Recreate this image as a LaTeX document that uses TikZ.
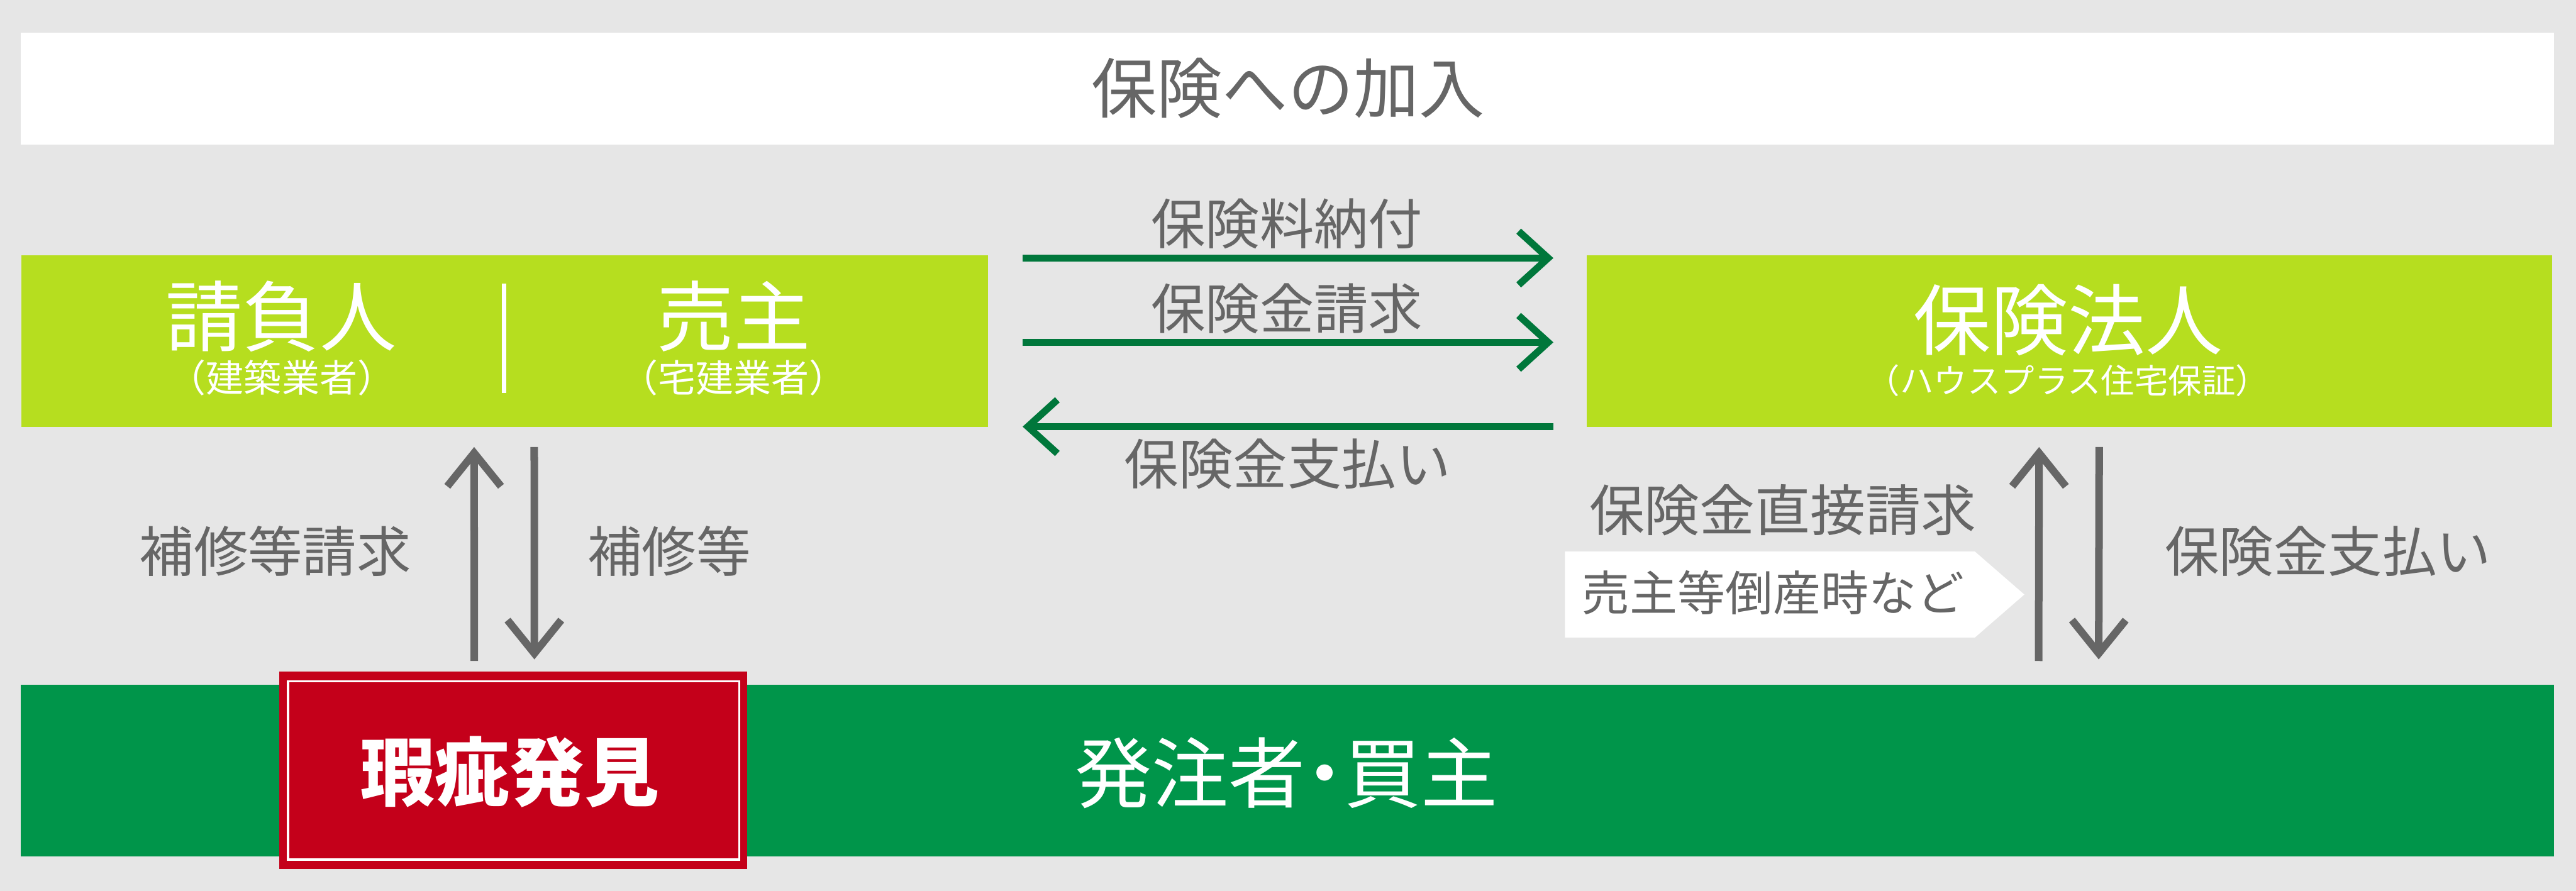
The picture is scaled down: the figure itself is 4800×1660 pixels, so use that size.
\documentclass[tikz,border=0pt]{standalone}
\usepackage{fontspec}
\setmainfont{Noto Sans CJK JP}
\usetikzlibrary{arrows.meta,calc}
\definecolor{bg}{HTML}{E6E6E6}
\definecolor{lime}{HTML}{B6DE1F}
\definecolor{dgreen}{HTML}{00773B}
\definecolor{bgreen}{HTML}{00954A}
\definecolor{kred}{HTML}{C4001A}
\definecolor{tgray}{HTML}{666666}
\begin{document}
\begin{tikzpicture}[x=0.01cm,y=-0.01cm,
  box/.style={rectangle, inner sep=0pt, outer sep=0pt, draw=none},
  fs/.style={font=\fontsize{#1}{#1}\selectfont},
  lbl/.style={inner sep=0pt, text=tgray},
  wlbl/.style={inner sep=0pt, text=white},
  garr/.style={draw=dgreen, line width=3.7pt, -{Straight Barb[length=0.55cm, width=1.0cm]}},
  gyarr/.style={draw=tgray, line width=4pt, -{Straight Barb[length=0.62cm, width=1.0cm]}}
]
\fill[bg] (0,0) rectangle (4800,1660);
\useasboundingbox (0,0) rectangle (4800,1660);

% top box
\node[box, fill=white, minimum width=47.17cm, minimum height=2.09cm] (top) at (2398.5,165.5) {};
\node[lbl, fs=34.7pt] (toptext) at (2400,164) {保険への加入};

% contractor / seller box
\node[box, fill=lime, minimum width=18cm, minimum height=3.2cm] (ukeoi) at (940,636) {};
\node[wlbl, fs=40.8pt] (ukeoiname) at (524,590) {請負人};
\node[wlbl, fs=20pt] (ukeoisub) at (525,704) {（建築業者）};
\node[wlbl, fs=40.8pt] (urinushi) at (1367,590) {売主};
\node[wlbl, fs=20pt] (urinushisub) at (1367,704) {（宅建業者）};
\draw[white, line width=0.08cm] (939,528) -- (939,732);

% insurer box
\node[box, fill=lime, minimum width=17.98cm, minimum height=3.2cm] (hoken) at (3856,636) {};
\node[wlbl, fs=41pt] (hokenname) at (3854,596) {保険法人};
\node[wlbl, fs=17.8pt] (hokensub) at (3853,709) {（ハウスプラス住宅保証）};

% buyer box
\node[box, fill=bgreen, minimum width=47.17cm, minimum height=3.2cm] (buyer) at (2398.5,1436) {};
\node[wlbl, fs=40.7pt] (buyertext) at (2397,1440) {発注者\kern-0.25em・\kern-0.25em買主};

% defect box
\node[box, fill=kred, minimum width=8.72cm, minimum height=3.67cm] (kashi) at (956,1435.5) {};
\node[box, draw=white, line width=0.04cm, minimum width=8.40cm, minimum height=3.32cm] (kashiin) at (957,1436) {};
\node[wlbl, fs=39.6pt] (kashitext) at (950,1439) {\bfseries 瑕疵発見};

% green arrows
\draw[garr] ($(ukeoi.north east)+(65,5)$) -- ($(hoken.north west)+(-62,5)$);
\draw[garr] ($(ukeoi.east)+(65,2)$) -- ($(hoken.west)+(-62,2)$);
\draw[garr] ($(hoken.south west)+(-62,-1)$) -- ($(ukeoi.south east)+(65,-1)$);
\node[lbl, fs=28.8pt] (l1) at (2398,417) {保険料納付};
\node[lbl, fs=28.8pt] (l2) at (2398,575) {保険金請求};
\node[lbl, fs=28.8pt] (l3) at (2399,865) {保険金支払い};

% left gray arrows
\draw[gyarr] ($(kashi.north west)+(364,-20)$) -- ($(ukeoi.south west)+(844,37)$);
\draw[gyarr] ($(ukeoi.south west)+(956,37)$) -- ($(kashi.north west)+(476,-23)$);
\node[lbl, fs=28.8pt] (l4) at (513,1027) {補修等請求};
\node[lbl, fs=28.8pt] (l5) at (1247,1027) {補修等};

% right gray arrows
\draw[gyarr] ($(buyer.north west)+(3760,-44)$) -- ($(hoken.south west)+(843,37)$);
\draw[gyarr] ($(hoken.south west)+(955,37)$) -- ($(buyer.north west)+(3872,-47)$);
\node[lbl, fs=29.3pt] (l6) at (3322,950) {保険金直接請求};
\node[lbl, fs=28.8pt] (l7) at (4338,1027) {保険金支払い};

% white pointer tag
\fill[white] (2916,1028) -- (3680,1028) -- (3772,1108) -- (3680,1188) -- (2916,1188) -- cycle;
\node[lbl, fs=25.3pt] (l8) at (3304,1104) {売主等倒産時など};
\end{tikzpicture}
\end{document}
